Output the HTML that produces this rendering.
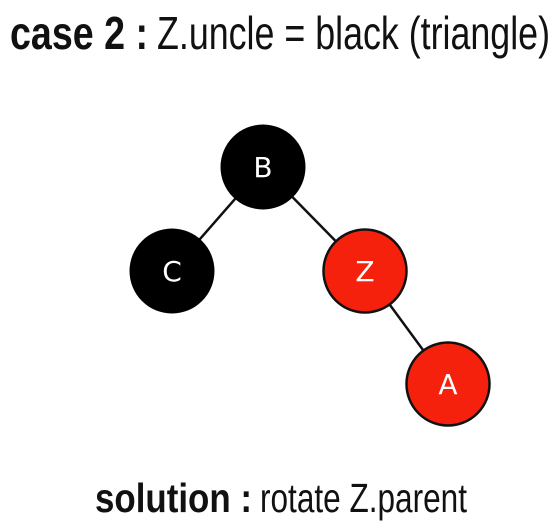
<!DOCTYPE html>
<html><head><meta charset="utf-8"><style>
html,body{margin:0;padding:0;background:#fff;width:559px;height:522px;overflow:hidden}
svg{display:block}
</style></head><body>
<svg width="559" height="522" viewBox="0 0 559 522">
<g font-family="'Liberation Sans Narrow','Liberation Sans',sans-serif" font-size="46" fill="#111">
<text x="10" y="49" font-weight="bold" textLength="138" lengthAdjust="spacingAndGlyphs">case 2 :</text>
<text x="157" y="49" textLength="393" lengthAdjust="spacingAndGlyphs">Z.uncle = black (triangle)</text>
</g>
<g stroke="#111" stroke-width="2.5">
<line x1="263" y1="167" x2="172" y2="271"/>
<line x1="263" y1="167" x2="365" y2="271"/>
<line x1="365" y1="271" x2="448" y2="384"/>
</g>
<g font-family="'DejaVu Sans','Liberation Sans',sans-serif" font-size="28" fill="#fff" text-anchor="middle">
<g><circle cx="263" cy="167" r="42.5" fill="#000"/><text x="263" y="177">B</text></g>
<g><circle cx="172" cy="271" r="42.5" fill="#000"/><text x="172" y="281">C</text></g>
<g><circle cx="365" cy="271" r="41.5" fill="#f5210c" stroke="#111" stroke-width="2.5"/><text x="365" y="281">Z</text></g>
<g><circle cx="448" cy="384" r="41.5" fill="#f5210c" stroke="#111" stroke-width="2.5"/><text x="448" y="394">A</text></g>
</g>
<g font-family="'Liberation Sans Narrow','Liberation Sans',sans-serif" font-size="41" fill="#111">
<text x="95" y="512" font-weight="bold" textLength="157" lengthAdjust="spacingAndGlyphs">solution :</text>
<text x="260" y="512" textLength="207" lengthAdjust="spacingAndGlyphs">rotate Z.parent</text>
</g>
</svg>
</body></html>
